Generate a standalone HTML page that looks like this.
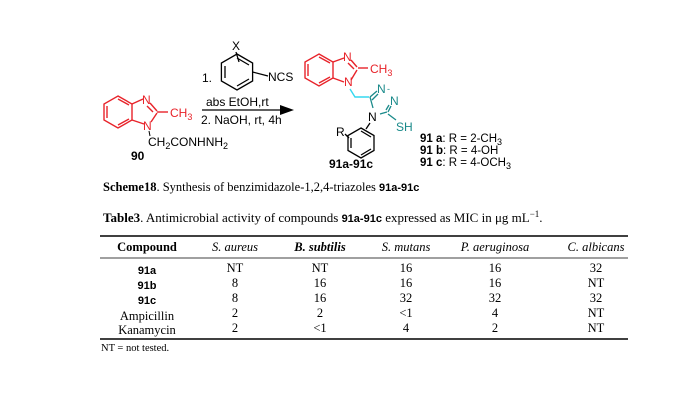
<!DOCTYPE html>
<html><head><meta charset="utf-8"><style>
body{margin:0;background:#fff;width:697px;height:419px;overflow:hidden}
svg{display:block}
.s{font-family:"Liberation Sans",sans-serif}
.r{font-family:"Liberation Serif",serif}
</style></head><body>
<svg width="697" height="419" viewBox="0 0 697 419">
<g stroke="#e8232a" stroke-width="1.4" fill="none">
<polygon points="118,96 132,104 132,120 118,128 104,120 104,104"/>
<polyline points="107,106 107,118"/><polyline points="118,99 129,105"/><polyline points="118,125 129,119"/>
<line x1="132" y1="104" x2="143" y2="99"/>
<line x1="150" y1="103" x2="157" y2="111"/><line x1="147" y1="106" x2="153" y2="112"/>
<line x1="157" y1="112" x2="168" y2="112"/>
<line x1="132" y1="120" x2="144" y2="124"/><line x1="151" y1="122" x2="157" y2="113"/>
</g>
<g fill="#e8232a" class="s" font-size="12"><text x="142" y="104">N</text><text x="170" y="117">CH<tspan font-size="9" dy="3">3</tspan></text><text x="143" y="130">N</text></g>
<line x1="149" y1="131" x2="150" y2="136" stroke="#000"/>
<text x="148" y="146" class="s" font-size="12">CH<tspan font-size="9" dy="3">2</tspan><tspan dy="-3">CONHNH</tspan><tspan font-size="9" dy="3">2</tspan></text>
<text x="131" y="160" class="s" font-size="12" font-weight="bold">90</text>
<g stroke="#000" stroke-width="1.3" fill="none">
<polygon points="237,54 252.6,63 252.6,81 237,90 221.4,81 221.4,63"/>
<line x1="225" y1="66" x2="225" y2="78"/><line x1="237" y1="86" x2="249" y2="79"/><line x1="237" y1="58" x2="249" y2="65"/>
<line x1="236" y1="52" x2="239" y2="62"/>
<line x1="252.6" y1="72" x2="268" y2="76"/>
<line x1="202" y1="110" x2="282" y2="110"/>
</g>
<polygon points="280,105 294,110 280,115" fill="#000"/>
<g class="s" font-size="12"><text x="232" y="50">X</text><text x="268" y="81">NCS</text><text x="202" y="82">1.</text>
<text x="206" y="106">abs EtOH,rt</text><text x="201" y="124">2. NaOH, rt, 4h</text></g>
<g stroke="#e8232a" stroke-width="1.4" fill="none">
<polygon points="319,54 333,62 333,78 319,86 305,78 305,62"/>
<line x1="308" y1="64" x2="308" y2="76"/><line x1="319" y1="57" x2="330" y2="63"/><line x1="319" y1="83" x2="330" y2="77"/>
<line x1="333" y1="62" x2="344" y2="58"/><line x1="351" y1="60" x2="357" y2="67"/><line x1="348" y1="63" x2="354" y2="69"/>
<line x1="358" y1="68" x2="368" y2="68"/><line x1="333" y1="78" x2="344" y2="82"/><line x1="351" y1="80" x2="357" y2="70"/>
</g>
<g fill="#e8232a" class="s" font-size="12"><text x="343" y="61">N</text><text x="370" y="73">CH<tspan font-size="9" dy="3">3</tspan></text><text x="344" y="86">N</text></g>
<polyline points="350,89 355,97 369,97" stroke="#34d8f0" stroke-width="1.4" fill="none"/>
<g stroke="#1a8a8a" stroke-width="1.3" fill="none">
<line x1="370" y1="97" x2="377" y2="91"/><line x1="372" y1="100" x2="378" y2="94"/>
<line x1="370" y1="97" x2="373" y2="108"/><line x1="380" y1="114" x2="387" y2="112"/>
<line x1="388" y1="112" x2="391" y2="106"/><line x1="386" y1="110" x2="389" y2="105"/>
<line x1="388" y1="114" x2="396" y2="120"/>
</g>
<g fill="#1a8a8a" class="s" font-size="12"><text x="377" y="93">N</text><text x="387" y="92" font-size="9">-</text><text x="390" y="105">N</text><text x="396" y="131">SH</text></g>
<text x="368" y="121" class="s" font-size="12">N</text>
<g stroke="#000" stroke-width="1.3" fill="none">
<line x1="370" y1="123" x2="366" y2="129"/>
<polygon points="361,128 374,135.5 374,150.5 361,158 348,150.5 348,135.5"/>
<line x1="351" y1="138" x2="351" y2="148"/><line x1="361" y1="155" x2="371" y2="149"/><line x1="361" y1="131" x2="371" y2="137"/>
<line x1="345" y1="134" x2="349" y2="138"/>
</g>
<text x="336" y="136" class="s" font-size="12">R</text>
<text x="329" y="168" class="s" font-size="12" font-weight="bold">91a-91c</text>
<g class="s" font-size="11.5"><text x="420" y="142"><tspan font-weight="bold">91 a</tspan>: R = 2-CH<tspan font-size="9" dy="3">3</tspan></text>
<text x="420" y="154"><tspan font-weight="bold">91 b</tspan>: R = 4-OH</text>
<text x="420" y="166"><tspan font-weight="bold">91 c</tspan>: R = 4-OCH<tspan font-size="9" dy="3">3</tspan></text></g>
<text x="103" y="191" class="r" font-size="12.5"><tspan font-weight="bold">Scheme18</tspan>. Synthesis of benzimidazole-1,2,4-triazoles <tspan class="s" font-size="11" font-weight="bold">91a-91c</tspan></text>
<text x="103" y="222" class="r" font-size="13"><tspan font-weight="bold">Table3</tspan>. Antimicrobial activity of compounds <tspan class="s" font-size="11" font-weight="bold">91a-91c</tspan>  expressed as MIC in μg mL<tspan font-size="9" dy="-5">−1</tspan><tspan dy="5">.</tspan></text>
<line x1="100" y1="236" x2="628" y2="236" stroke="#000" stroke-width="1.4"/>
<line x1="100" y1="258" x2="628" y2="258" stroke="#000" stroke-width="0.8"/>
<line x1="100" y1="339" x2="628" y2="339" stroke="#000" stroke-width="1.4"/>
<g class="r" font-size="12.5" text-anchor="middle">
<text x="147" y="251" font-weight="bold">Compound</text>
<text x="235" y="251" font-style="italic">S. aureus</text>
<text x="320" y="251" font-style="italic" font-weight="bold">B. subtilis</text>
<text x="406" y="251" font-style="italic">S. mutans</text>
<text x="495" y="251" font-style="italic">P. aeruginosa</text>
<text x="596" y="251" font-style="italic">C. albicans</text>
<g class="s" font-weight="bold" font-size="11"><text x="147" y="274">91a</text><text x="147" y="289">91b</text><text x="147" y="304">91c</text></g>
<text x="147" y="320">Ampicillin</text><text x="147" y="334">Kanamycin</text>
<text x="235" y="272">NT</text><text x="235" y="287">8</text><text x="235" y="302">8</text><text x="235" y="317">2</text><text x="235" y="332">2</text>
<text x="320" y="272">NT</text><text x="320" y="287">16</text><text x="320" y="302">16</text><text x="320" y="317">2</text><text x="320" y="332">&lt;1</text>
<text x="406" y="272">16</text><text x="406" y="287">16</text><text x="406" y="302">32</text><text x="406" y="317">&lt;1</text><text x="406" y="332">4</text>
<text x="495" y="272">16</text><text x="495" y="287">16</text><text x="495" y="302">32</text><text x="495" y="317">4</text><text x="495" y="332">2</text>
<text x="596" y="272">32</text><text x="596" y="287">NT</text><text x="596" y="302">32</text><text x="596" y="317">NT</text><text x="596" y="332">NT</text>
</g>
<text x="101" y="351" class="r" font-size="10.5">NT = not tested.</text>
</svg>
</body></html>
